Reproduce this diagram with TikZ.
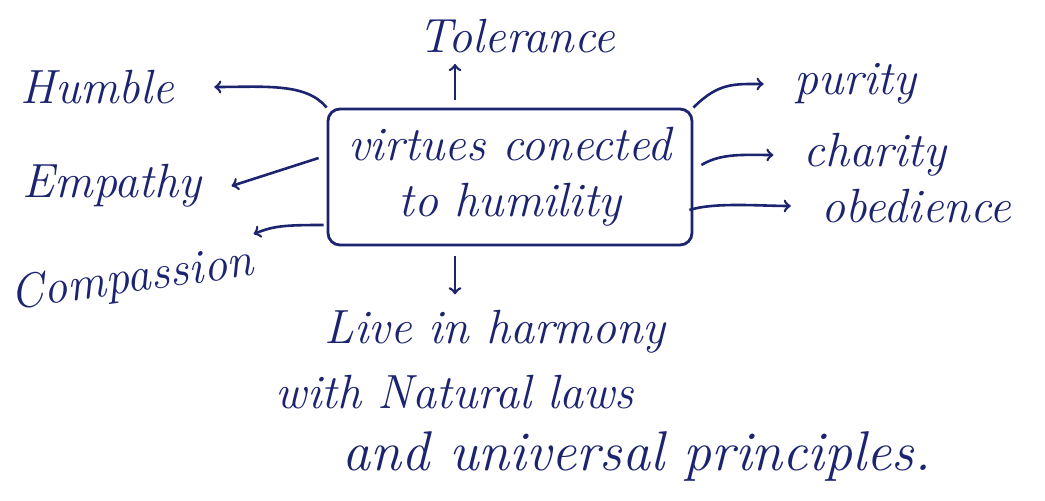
\documentclass[tikz,border=0pt]{standalone}
\usepackage{tikz}
\usepackage{xcolor}
\usetikzlibrary{positioning, arrows}
\definecolor{ink}{RGB}{28,36,112}
\tikzset{
  virtue/.style={font=\fontsize{24}{29}\selectfont\itshape, text=ink, inner xsep=15pt},
  hub/.style={draw=ink, line width=1.4pt, rounded corners=6pt, minimum width=182pt, minimum height=68pt, align=center, font=\fontsize{24}{28}\selectfont\itshape, text=ink},
  link/.style={draw=ink, line width=1.3pt, ->}
}

\begin{document}
\begin{tikzpicture}[x=0.5pt, y=-0.5pt] %pixel grid, y going down
   \useasboundingbox (0,0) rectangle (1045,501); % page frame
   \fill[white] (0,0) rectangle (1045,501);
   \node[hub] (virtues) at (510,177) {virtues conected\\to humility}; % centre box
   % the branches
   \node[virtue] (tolerance) at (517,36) {Tolerance};
   \node[virtue, inner xsep=20pt] (humble) at (97,87) {Humble};
   \node[virtue] (empathy) at (112,186) {Empathy};
   \node[virtue, rotate=8, inner xsep=2pt] (compassion) at (132,280) {Compassion};
   \node[virtue] (purity) at (855,84) {purity};
   \node[virtue] (charity) at (875,155) {charity};
   \node[virtue] (obedience) at (916,206) {obedience};
   \node[virtue] (live) at (495,332) {Live in harmony};
   \node[virtue] (natural) at (455,392) {with Natural laws};
   \node[virtue, font=\fontsize{28}{32}\selectfont\itshape] (principles) at (637,457) {and universal principles.};
   % arrows out of the box
   \draw[link] ([shift={(-55,-8)}]virtues.north) -- ([shift={(-62,4)}]tolerance.south);
   \draw[link] (virtues.north west) .. controls +(-20,-25) and +(50,0) .. (humble.east);
   \draw[link] ([shift={(-8,-19)}]virtues.west) -- (empathy.east);
   \draw[link] ([shift={(-3,48)}]virtues.west) .. controls +(-40,0) and +(20,-8) .. (compassion.north east);
   \draw[link] (virtues.north east) .. controls +(25,-25) and +(-30,0) .. (purity.west);
   \draw[link] ([shift={(8,-12)}]virtues.east) .. controls +(20,-12) and +(-30,0) .. (charity.west);
   \draw[link] ([shift={(-4,33)}]virtues.east) .. controls +(25,-8) and +(-30,0) .. (obedience.west);
   \draw[link] ([shift={(-55,10)}]virtues.south) -- ([shift={(-40,-9)}]live.north);
\end{tikzpicture}
\end{document}
